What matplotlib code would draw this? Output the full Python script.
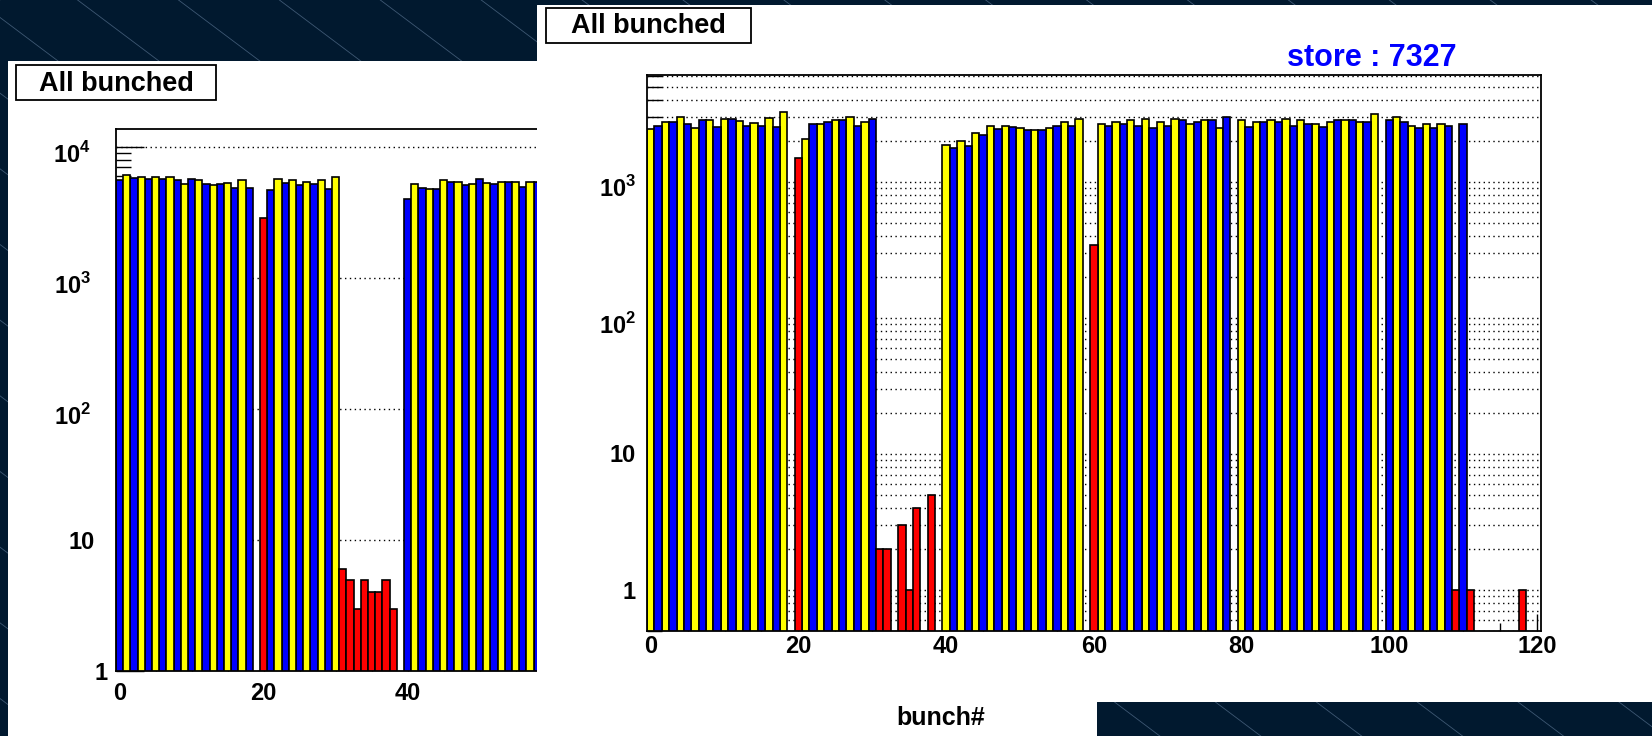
import numpy as np
import matplotlib.pyplot as plt
from matplotlib.patches import Rectangle
from matplotlib.transforms import offset_copy
from matplotlib.ticker import LogLocator, NullFormatter, MultipleLocator

plt.rcParams['font.family'] = ['Liberation Sans', 'DejaVu Sans']
plt.rcParams['font.weight'] = 'bold'
plt.rcParams['mathtext.fontset'] = 'custom'
plt.rcParams['mathtext.rm'] = 'Liberation Sans:bold'
plt.rcParams['mathtext.bf'] = 'Liberation Sans:bold'

# ---- store 7327 (right panel) ----
r_yellow_bunch = [0, 2, 4, 6, 8, 10, 12, 14, 16, 18,
                  21, 23, 25, 27, 29,
                  40, 42, 44, 46, 48, 50, 52, 54, 56, 58,
                  61, 63, 65, 67, 69, 71, 73, 75, 77,
                  80, 82, 84, 86, 88, 90, 92, 94, 96, 98,
                  101, 103, 105, 107]
r_yellow_counts = [2430, 2750, 2990, 2500, 2830, 2900, 2810, 2730, 2940, 3240,
                   2070, 2640, 2830, 2990, 2750,
                   1880, 2000, 2270, 2570, 2570, 2480, 2400, 2490, 2750, 2920,
                   2670, 2750, 2830, 2900, 2750, 2900, 2660, 2830, 2490,
                   2830, 2750, 2830, 2900, 2830, 2670, 2750, 2830, 2750, 3140,
                   3000, 2570, 2670, 2660]
r_blue_bunch = [1, 3, 5, 7, 9, 11, 13, 15, 17,
                22, 24, 26, 28, 30,
                41, 43, 45, 47, 49, 51, 53, 55, 57,
                62, 64, 66, 68, 70, 72, 74, 76, 78,
                81, 83, 85, 87, 89, 91, 93, 95, 97,
                100, 102, 104, 106, 108, 110]
r_blue_counts = [2580, 2750, 2670, 2830, 2510, 2920, 2580, 2580, 2510,
                 2670, 2750, 2830, 2580, 2920,
                 1780, 1830, 2200, 2430, 2510, 2410, 2410, 2580, 2580,
                 2580, 2670, 2580, 2490, 2580, 2830, 2750, 2830, 3000,
                 2510, 2750, 2750, 2580, 2670, 2510, 2830, 2830, 2750,
                 2840, 2750, 2490, 2490, 2580, 2670]
r_red_bunch = [20, 31, 32, 34, 35, 36, 38, 60, 109, 111, 118]
r_red_counts = [1510, 2, 2, 3, 1, 4, 5, 345, 1, 1, 1]

# ---- earlier store (left panel) ----
l_blue_bunch = [0, 2, 4, 6, 8, 10, 12, 14, 16, 18,
                21, 23, 25, 27, 29,
                40, 42, 44, 46, 48, 50, 52, 54, 56, 58]
l_blue_counts = [5580, 5800, 5660, 5750, 5620, 5700, 5200, 5200, 4890, 4890,
                 4710, 5290, 5090, 5200, 4780,
                 4040, 4890, 4820, 5370, 5090, 5700, 5240, 5410, 4970, 5400]
l_yellow_bunch = [1, 3, 5, 7, 9, 11, 13, 15, 17,
                  22, 24, 26, 28, 30,
                  41, 43, 45, 47, 49, 51, 53, 55, 57]
l_yellow_counts = [6070, 5890, 5890, 5890, 5200, 5580, 5160, 5330, 5580,
                   5700, 5580, 5370, 5580, 5890,
                   5240, 4820, 5620, 5370, 5200, 5290, 5410, 5410, 5370]
l_red_bunch = [20, 31, 32, 33, 34, 35, 36, 37, 38]
l_red_counts = [2860, 6, 5, 3, 5, 4, 4, 5, 3]

W, H = 1652, 736
NAVY = '#01192f'
STRIPE = '#3e5873'


def frac(x0, y0, x1, y1):
    return [x0 / W, 1 - y1 / H, (x1 - x0) / W, (y1 - y0) / H]


def pixel_axes(fig, box, zorder, color):
    x0, y0, x1, y1 = box
    ax = fig.add_axes(frac(*box), zorder=zorder)
    ax.set_xlim(x0, x1)
    ax.set_ylim(y1, y0)
    ax.set_axis_off()
    ax.add_patch(Rectangle((x0, y0), x1 - x0, y1 - y0, color=color, zorder=0))
    return ax


def stripes(ax):
    # thin diagonal lines of the slide backdrop, in figure pixels
    for xk in np.arange(77.6 - 100.9 * 11, W + 101, 100.9):
        ax.plot([xk, xk + H / 0.75], [0, H], color=STRIPE, lw=0.6, zorder=1)


def label_box(ax, x0, y0, x1, y1, text):
    ax.add_patch(Rectangle((x0, y0), x1 - x0, y1 - y0, facecolor='white',
                           edgecolor='black', lw=1.3, zorder=2))
    ax.text((x0 + x1) / 2, (y0 + y1) / 2 + 1, text, ha='center', va='center',
            fontsize=19.5, zorder=3)


def style_hist(ax, ymin, ymax, minor_grid, xlab_pad):
    ax.set_yscale('log')
    ax.set_xlim(-0.5, 120.5)
    ax.set_ylim(ymin, ymax)
    ax.set_axisbelow(True)
    for s in ax.spines.values():
        s.set_linewidth(1.3)
    ax.xaxis.set_major_locator(MultipleLocator(20))
    ax.xaxis.set_minor_locator(MultipleLocator(5))
    ax.yaxis.set_major_locator(LogLocator(base=10, numticks=12))
    ax.yaxis.set_minor_locator(LogLocator(base=10, subs=np.arange(2, 10), numticks=40))
    ax.yaxis.set_minor_formatter(NullFormatter())
    ax.tick_params(axis='x', which='major', direction='in', length=12, width=1,
                   pad=xlab_pad, labelsize=17)
    ax.tick_params(axis='x', which='minor', direction='in', length=6, width=1)
    ax.tick_params(axis='y', which='major', direction='in', length=20, width=1,
                   labelleft=False)
    ax.tick_params(axis='y', which='minor', direction='in', length=10.5, width=1)
    ax.tick_params(top=False, right=False)
    grid_kw = dict(color='black', lw=1.0, ls=(0, (1, 2.5)))
    ax.grid(True, axis='y', which='major', **grid_kw)
    if minor_grid:
        ax.grid(True, axis='y', which='minor', **grid_kw)


def decade_labels(fig, ax, ax_x0, ax_x1, decades, right_px):
    # "1", "10", "10^n" placed left of the frame; right_px gives each label's right edge
    width = ax_x1 - ax_x0
    for v, rx in zip(decades, right_px):
        if v == 1:
            s, drop = '1', 8.5
        elif v == 10:
            s, drop = '10', 8.5
        else:
            s, drop = r'$10^{%d}$' % round(np.log10(v)), 15.5
        tr = offset_copy(ax.get_yaxis_transform(), fig=fig, x=0, y=-drop,
                         units='dots')
        ax.text((rx - ax_x0) / width, v, s, transform=tr, ha='right',
                va='baseline', fontsize=17)


def draw_bars(ax, bunch, counts, color):
    ax.bar(bunch, counts, width=1.0, color=color, edgecolor='black',
           linewidth=1.2, zorder=2)


fig = plt.figure(figsize=(W / 100, H / 100), dpi=100)

bg = pixel_axes(fig, (0, 0, W, H), 0, NAVY)
stripes(bg)

# left canvas
lp = pixel_axes(fig, (7.6, 61, 1100, H), 1, 'white')
label_box(lp, 16, 65, 216, 100, 'All bunched')

L0, L1 = 116, 116 + 121 * 7.2
ax_l = fig.add_axes(frac(L0, 128.7, L1, 671.2), zorder=2)
style_hist(ax_l, 1, 13800, False, 8)
decade_labels(fig, ax_l, L0, L1, [1, 10, 100, 1000, 10000],
              [108, 95, 91, 91, 91])
draw_bars(ax_l, l_blue_bunch, l_blue_counts, '#0000ff')
draw_bars(ax_l, l_yellow_bunch, l_yellow_counts, '#ffff00')
draw_bars(ax_l, l_red_bunch, l_red_counts, '#ff0000')

# right canvas
rp = pixel_axes(fig, (537, 5, W, H), 3, 'white')
label_box(rp, 546, 7.5, 751, 43, 'All bunched')
rp.text(1372, 58, 'store : 7327', color='#0000ff', fontsize=22,
        ha='center', va='center')
rp.text(941, 718, 'bunch#', fontsize=18, ha='center', va='center')

R0, R1 = 647, 1540.7
ax_r = fig.add_axes(frac(R0, 75, R1, 631), zorder=4)
style_hist(ax_r, 0.5, 6100, True, 3)
decade_labels(fig, ax_r, R0, R1, [1, 10, 100, 1000], [636, 636, 636, 636])
draw_bars(ax_r, r_yellow_bunch, r_yellow_counts, '#ffff00')
draw_bars(ax_r, r_blue_bunch, r_blue_counts, '#0000ff')
draw_bars(ax_r, r_red_bunch, r_red_counts, '#ff0000')

# backdrop showing through at the lower right
dk = pixel_axes(fig, (1097, 702, W, H), 5, NAVY)
stripes(dk)
dk.set_xlim(1097, W)
dk.set_ylim(H, 702)

fig.savefig('out.png', dpi=100)
